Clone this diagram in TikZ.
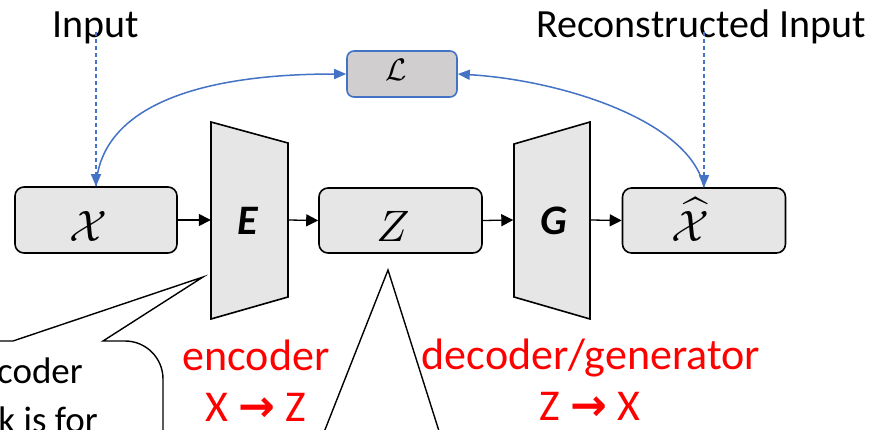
\documentclass[tikz,border=0pt]{standalone}
\usepackage{graphicx}
\usepackage{fontspec}
\setmainfont{Carlito}
\newfontfamily\symfont{DejaVu Sans}
\usetikzlibrary{arrows.meta}
\definecolor{boxgray}{HTML}{E6E6E6}
\definecolor{lossgray}{HTML}{D0CECE}
\definecolor{linkblue}{HTML}{4472C4}
\definecolor{notered}{HTML}{FF0000}

\begin{document}
\begin{tikzpicture}[x=1pt,y=-1pt,
  block/.style={draw=black, line width=1.6pt, fill=boxgray, rounded corners=9pt,
    minimum width=163pt, minimum height=65pt, inner sep=0pt},
  lossbox/.style={draw=linkblue, line width=1.6pt, fill=lossgray, rounded corners=7pt,
    minimum width=110pt, minimum height=46pt, inner sep=0pt},
  net/.style={draw=black, line width=1.6pt, fill=boxgray, line join=miter},
  netarea/.style={inner sep=0pt, minimum width=77pt, minimum height=154pt},
  flow/.style={draw=black, line width=1.3pt, -{Triangle[length=12pt,width=12pt]}},
  lossarc/.style={draw=linkblue, line width=1.5pt, -{Triangle[length=12pt,width=10pt]}},
  feed/.style={draw=linkblue, line width=1.3pt, dash pattern=on 4pt off 3pt,
    -{Triangle[length=12pt,width=10pt]}},
  caption/.style={font=\fontsize{40}{48}\selectfont, inner sep=0pt, anchor=base},
  rednote/.style={font=\fontsize{44}{52}\selectfont, text=notered, inner sep=0pt,
    anchor=base, text depth=0pt},
  sym/.style={inner sep=0pt, anchor=base},
  netlabel/.style={inner sep=0pt, anchor=base, font=\fontsize{42}{50}\selectfont\bfseries\itshape},
  bubbletext/.style={anchor=base east, inner sep=0pt, font=\fontsize{37}{44}\selectfont},
  callout/.style={draw=black, line width=1.4pt, fill=white, line join=miter},
]
\fill[white] (0,0) rectangle (876,429);
\useasboundingbox (0,0) rectangle (876,429);
\clip (0,0) rectangle (876,429);

% speech bubbles (partly outside the frame)
\path[callout] (-20,341) -- (13,341) -- (203,277) -- (103,341) -- (125,341)
  .. controls (146,341) and (163,358) .. (163,379) -- (163,460) -- (-20,460) -- cycle;
\path[callout] (317,450) -- (388,270) -- (445,450);
\node[bubbletext] (bubA) at (83,383) {coder};
\node[bubbletext] (bubB) at (98,432) {k is for};

% pipeline boxes
\node[block, minimum width=162pt, minimum height=66pt] (X) at (96,220) {};
\node[block] (Z) at (400.5,220.5) {};
\node[block] (Xh) at (704,220.5) {};
\node[lossbox] (L) at (402,74) {};

% encoder and generator
\path[net] (211,122) -- (288,143) -- (288,297) -- (211,319) -- cycle;
\path[net] (514,144) -- (590,122) -- (590,319) -- (514,297) -- cycle;
\node[netarea] (E) at (249.5,220) {};
\node[netarea] (G) at (552,220) {};

% symbols
\node[sym] (Xs) at (88,241) {\scalebox{4.4}{$\mathcal{X}$}};
\node[sym] (Zs) at (393,241) {\scalebox{4.4}{$Z$}};
\node[sym] (Xhs) at (690,241) {\scalebox{4.4}{$\widehat{\mathcal{X}}$}};
\node[sym] (Ls) at (396,80) {\scalebox{3.1}{$\mathcal{L}$}};
\node[netlabel] (Es) at (248,234) {E};
\node[netlabel] (Gs) at (554,234) {G};

% forward flow
\draw[flow] (X.east) -- (E.west);
\draw[flow] (E.east) -- (Z.west);
\draw[flow] (Z.east) -- (G.west);
\draw[flow] (G.east) -- (Xh.west);

% top captions and feeds
\node[caption] (in) at (96,37) {Input};
\node[caption] (rin) at (701,37) {Reconstructed Input};
\draw[feed] ([yshift=12pt]X.north |- in.south) -- (X.north);
\draw[feed] ([yshift=12pt]Xh.north |- rin.south) -- (Xh.north);

% reconstruction loss
\draw[lossarc] (X.north) .. controls (100,115) and (180,74) .. (L.west);
\draw[lossarc] (Xh.north) .. controls (690,120) and (560,80) .. (L.east);

% red notes
\node[rednote] (enc) at (256,370) {encoder};
\node[rednote] (encmap) at (256,421) {X {\symfont\bfseries →} Z};
\node[rednote] (dec) at (591,369) {decoder/generator};
\node[rednote] (decmap) at (590,420) {Z {\symfont\bfseries →} X};
\end{tikzpicture}
\end{document}
